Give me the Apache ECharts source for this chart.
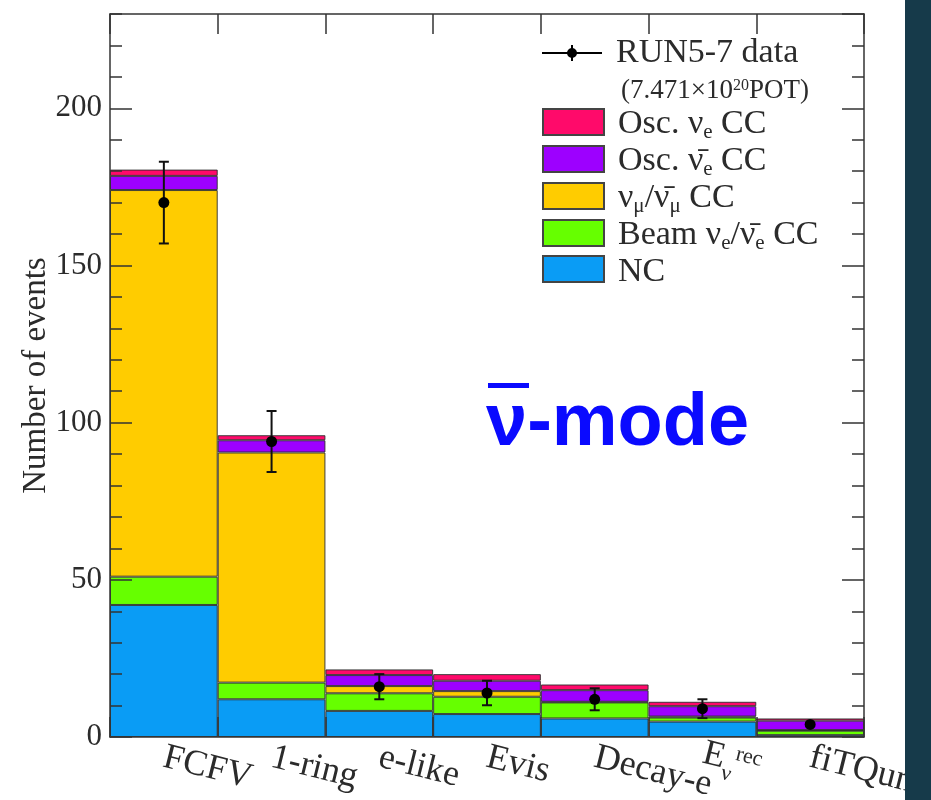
<!DOCTYPE html>
<html>
<head>
<meta charset="utf-8">
<script src="https://cdn.jsdelivr.net/npm/echarts@6/dist/echarts.min.js"></script>
<style>
  html, body { margin: 0; padding: 0; background: #ffffff; }
  #chart { width: 931px; height: 800px; }
</style>
</head>
<body>
<div id="chart"></div>
<script>
// Selection steps (x categories)
const categories = ['FCFV', '1-ring', 'e-like', 'Evis', 'Decay-e', 'E_{ν}^{rec}', 'fiTQun'];

// Expected events per component (stacked bottom to top)
const ncEvents        = [42.0, 12.0, 8.3, 7.3, 5.9, 4.9, 0.6];
const beamNueEvents   = [9.0, 5.3, 5.6, 5.5, 5.1, 1.3, 1.4];
const numuEvents      = [123.0, 73.2, 2.3, 1.8, 0.2, 0.3, 0.2];
const oscNuebarEvents = [4.5, 3.9, 3.5, 3.3, 3.7, 3.3, 3.0];
const oscNueEvents    = [2.0, 1.6, 1.8, 2.1, 1.8, 1.4, 0.7];

// Observed data with statistical errors
const dataEvents = [170, 94, 16, 14, 12, 9, 4];
const dataErrors = [13, 9.7, 4, 3.9, 3.5, 3, 1.5];

// Y axis range and tick spacing
const yMin = 0;
const yMax = 230;
const yMajorStep = 50;
const yMinorStep = 10;

const SERIF = '"Liberation Serif", "DejaVu Serif", serif';
const TEXT_COLOR = '#2b2b2b';
const FRAME_COLOR = '#333333';

// Turn "a_{b}^{c}" markup into ECharts rich text tokens
function toRich(s) {
  let out = '';
  const re = /([_^])\{([^}]*)\}/g;
  let last = 0, m;
  while ((m = re.exec(s)) !== null) {
    if (m.index > last) out += '{t|' + s.slice(last, m.index) + '}';
    out += (m[1] === '_' ? '{sub|' : '{sup|') + m[2] + '}';
    last = re.lastIndex;
  }
  if (last < s.length) out += '{t|' + s.slice(last) + '}';
  return out;
}

// Main text sits at the top of the line box, subscripts at its bottom
function richStyles(size, subSize, lineH) {
  return {
    t:   { fontFamily: SERIF, fontSize: size, lineHeight: size, verticalAlign: 'top', color: TEXT_COLOR },
    sub: { fontFamily: SERIF, fontSize: subSize, lineHeight: lineH, verticalAlign: 'bottom', color: TEXT_COLOR },
    sup: { fontFamily: SERIF, fontSize: subSize, lineHeight: subSize, verticalAlign: 'top', color: TEXT_COLOR }
  };
}

const stackComponents = [
  { name: 'NC',                         values: ncEvents,        color: '#0a9cf5' },
  { name: 'Beam ν_{e}/ν\u0304_{e} CC',  values: beamNueEvents,   color: '#66ff00' },
  { name: 'ν_{μ}/ν\u0304_{μ} CC',       values: numuEvents,      color: '#ffcc00' },
  { name: 'Osc. ν\u0304_{e} CC',        values: oscNuebarEvents, color: '#9d00ff' },
  { name: 'Osc. ν_{e} CC',              values: oscNueEvents,    color: '#ff0a6a' }
];

const barSeries = stackComponents.map(c => ({
  name: c.name,
  type: 'bar',
  stack: 'mc',
  xAxisIndex: 0,
  yAxisIndex: 0,
  barWidth: '100%',
  barCategoryGap: 0,
  data: c.values,
  itemStyle: { color: c.color, borderColor: 'rgba(45,45,45,0.9)', borderWidth: 1 },
  emphasis: { disabled: true },
  z: 2
}));

const dataSeries = {
  name: 'RUN5-7 data',
  type: 'custom',
  xAxisIndex: 0,
  yAxisIndex: 0,
  itemStyle: { color: '#000000' },
  data: dataEvents.map((v, i) => [i, v, dataErrors[i]]),
  z: 5,
  renderItem: function (params, api) {
    const idx = api.value(0), v = api.value(1), e = api.value(2);
    const c = api.coord([idx, v]);
    const hi = api.coord([idx, v + e]);
    const lo = api.coord([idx, v - e]);
    const r = 5.5, cap = 5;
    const ls = { stroke: '#111111', lineWidth: 2 };
    const children = [];
    if (c[1] - hi[1] > r) {
      children.push({ type: 'line', shape: { x1: c[0], y1: hi[1], x2: c[0], y2: lo[1] }, style: ls });
      children.push({ type: 'line', shape: { x1: c[0] - cap, y1: hi[1], x2: c[0] + cap, y2: hi[1] }, style: ls });
      children.push({ type: 'line', shape: { x1: c[0] - cap, y1: lo[1], x2: c[0] + cap, y2: lo[1] }, style: ls });
    }
    children.push({ type: 'circle', shape: { cx: c[0], cy: c[1], r: r }, style: { fill: '#000000' } });
    return { type: 'group', children: children };
  }
};

// Marker-with-error-bar legend glyph
const dataIcon = 'path://M0,10 L60,10 L60,12 L0,12 Z M29,3 L31,3 L31,19 L29,19 Z M25,11 A5,5 0 1,1 35,11 A5,5 0 1,1 25,11 Z';

const chart = echarts.init(document.getElementById('chart'), null, { renderer: 'canvas' });

const tickStyle = { color: FRAME_COLOR, width: 1.5 };
const lineStyle = { color: FRAME_COLOR, width: 1.5 };

const yAxisCommon = {
  type: 'value', min: yMin, max: yMax, splitLine: { show: false }, z: 10
};

chart.setOption({
  backgroundColor: '#ffffff',
  animation: false,
  grid: { left: 110, right: 67, top: 14, bottom: 63, containLabel: false, outerBoundsMode: 'none' },
  legend: [
    {
      data: [{ name: 'RUN5-7 data', icon: dataIcon }],
      orient: 'vertical', left: 542, top: 36, padding: 0,
      itemWidth: 60, itemHeight: 22, selectedMode: false,
      textStyle: { fontFamily: SERIF, fontSize: 34, color: TEXT_COLOR, padding: [0, 0, 0, 9] }
    },
    {
      data: stackComponents.slice().reverse().map(c => ({ name: c.name, icon: 'rect' })),
      orient: 'vertical', left: 542, top: 107, padding: 0,
      itemWidth: 61, itemHeight: 26, itemGap: 1, selectedMode: false,
      itemStyle: { borderColor: '#444444', borderWidth: 2 },
      formatter: name => toRich(name),
      textStyle: { fontFamily: SERIF, fontSize: 34, color: TEXT_COLOR, padding: [6, 0, 0, 9],
                   rich: richStyles(34, 21, 36) }
    }
  ],
  xAxis: [
    {
      type: 'category', data: categories, position: 'bottom', boundaryGap: true, z: 10,
      axisLine: { show: true, onZero: false, lineStyle: lineStyle },
      axisTick: { show: true, inside: true, length: 20, lineStyle: tickStyle },
      axisLabel: {
        rotate: -14, margin: 20, interval: 0,
        formatter: v => toRich(v),
        fontFamily: SERIF, fontSize: 36, color: TEXT_COLOR,
        rich: richStyles(36, 22, 44)
      }
    },
    {
      type: 'category', data: categories, position: 'top', boundaryGap: true, z: 10,
      axisLine: { show: true, onZero: false, lineStyle: lineStyle },
      axisTick: { show: true, inside: true, length: 20, lineStyle: tickStyle },
      axisLabel: { show: false }
    }
  ],
  yAxis: [
    Object.assign({}, yAxisCommon, {
      position: 'left', interval: yMajorStep,
      name: 'Number of events', nameLocation: 'middle', nameRotate: 90, nameGap: 57,
      nameMoveOverlap: false,
      nameTextStyle: { fontFamily: SERIF, fontSize: 33, color: TEXT_COLOR },
      axisLine: { show: true, onZero: false, lineStyle: lineStyle },
      axisTick: { show: true, inside: true, length: 22, lineStyle: tickStyle },
      axisLabel: { fontFamily: SERIF, fontSize: 31, color: TEXT_COLOR, margin: 8, showMaxLabel: false }
    }),
    Object.assign({}, yAxisCommon, {
      position: 'left', interval: yMinorStep,
      axisLine: { show: false },
      axisTick: { show: true, inside: true, length: 12, lineStyle: tickStyle },
      axisLabel: { show: false }
    }),
    Object.assign({}, yAxisCommon, {
      position: 'right', interval: yMajorStep,
      axisLine: { show: true, onZero: false, lineStyle: lineStyle },
      axisTick: { show: true, inside: true, length: 22, lineStyle: tickStyle },
      axisLabel: { show: false }
    }),
    Object.assign({}, yAxisCommon, {
      position: 'right', interval: yMinorStep,
      axisLine: { show: false },
      axisTick: { show: true, inside: true, length: 12, lineStyle: tickStyle },
      axisLabel: { show: false }
    })
  ],
  series: barSeries.concat([dataSeries]),
  graphic: [
    {
      type: 'text', left: 621, top: 77, z: 20,
      style: {
        text: '{t|(7.471×10}{sup|20}{t|POT)}',
        rich: {
          t:   { fontFamily: SERIF, fontSize: 27, lineHeight: 26, fill: TEXT_COLOR },
          sup: { fontFamily: SERIF, fontSize: 16, lineHeight: 8, verticalAlign: 'top', fill: TEXT_COLOR }
        }
      }
    },
    {
      type: 'text', z: 20, left: 486, top: 388,
      style: { text: 'ν-mode', font: 'bold 74px "Liberation Sans", Arial, sans-serif', fill: '#0a0aff' }
    },
    {
      type: 'rect', z: 20, left: 488, top: 383,
      shape: { width: 41, height: 5 }, style: { fill: '#0a0aff' }
    },
    {
      type: 'rect', z: 100, left: 905, top: 0,
      shape: { width: 26, height: 800 }, style: { fill: '#163a4a' }
    }
  ]
});
</script>
</body>
</html>
